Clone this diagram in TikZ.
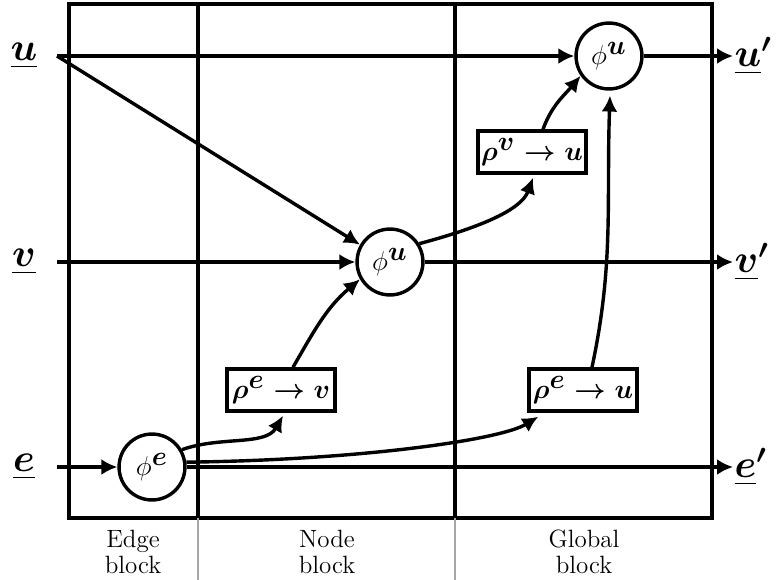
\documentclass[tikz,border=0pt]{standalone}
\usepackage{amsmath,amssymb}
\usetikzlibrary{arrows.meta,calc}
\begin{document}
\begin{tikzpicture}[x=0.44pt,y=0.44pt,
  line width=1.5pt,
  arr/.style={-{Latex[length=7pt,width=7pt]}},
  fn/.style={circle,draw,line width=1.5pt,minimum size=29pt,inner sep=0pt,font=\fontsize{11.5}{14}\selectfont},
  agg/.style={rectangle,draw,line width=1.5pt,minimum width=47.5pt,minimum height=18.5pt,inner sep=1pt,font=\fontsize{11.5}{13}\selectfont},
  lbl/.style={font=\fontsize{18.5}{22}\selectfont,inner sep=0pt},
  blk/.style={align=center,font=\fontsize{11}{11.6}\selectfont,inner sep=0pt},
  sep/.style={draw=black!35,line width=1pt}]

\useasboundingbox (0,0) rectangle (776,-580);

% frame and block separators
\draw (69,-4) rectangle (712,-518);
\draw (198,-4) -- (198,-518);
\draw (455,-4) -- (455,-518);
\draw[sep] (198,-518) -- (198,-580);
\draw[sep] (455,-518) -- (455,-580);

% nodes
\node[fn] (pe) at (152,-467) {$\phi^{\textstyle\boldsymbol e}$};
\node[fn] (pv) at (390,-262) {$\phi^{\textstyle\boldsymbol u}$};
\node[fn] (pu) at (609,-56) {$\phi^{\textstyle\boldsymbol u}$};
\node[agg] (rev) at (281,-390) {$\boldsymbol{\rho^{\textstyle\boldsymbol e}\rightarrow v}$};
\node[agg] (rvu) at (532,-152) {$\boldsymbol{\rho^{\textstyle\boldsymbol v}\rightarrow u}$};
\node[agg] (reu) at (583,-390) {$\boldsymbol{\rho^{\textstyle\boldsymbol e}\rightarrow u}$};

% inputs / outputs
\coordinate (uin) at (57,-56);
\coordinate (vin) at (57,-262);
\coordinate (ein) at (57,-467);
\coordinate (uout) at (733,-56);
\coordinate (vout) at (733,-262);
\coordinate (eout) at (733,-467);

\node[lbl] (ul) at (24,-56) {$\underline{\boldsymbol u}$};
\node[lbl] (vl) at (24,-262) {$\underline{\boldsymbol v}$};
\node[lbl] (el) at (24,-467) {$\underline{\boldsymbol e}$};
\node[lbl,anchor=west] (ulo) at (uout) {$\underline{\boldsymbol u}^{\boldsymbol\prime}$};
\node[lbl,anchor=west] (vlo) at (vout) {$\underline{\boldsymbol v}^{\boldsymbol\prime}$};
\node[lbl,anchor=west] (elo) at (eout) {$\underline{\boldsymbol e}^{\boldsymbol\prime}$};

% block labels
\node[blk] (eb) at (133,-552) {Edge\\block};
\node[blk] (nb) at (327,-552) {Node\\block};
\node[blk] (gb) at (584,-552) {Global\\block};

% straight connectors
\draw[arr] (uin) -- (pu);
\draw[arr] (pu) -- (uout);
\draw[arr] (uin) -- (pv.150);
\draw[arr] (vin) -- (pv);
\draw[arr] (pv) -- (vout);
\draw[arr] (ein) -- (pe);
\draw[arr] (pe) -- (eout);

% curved connectors
\draw[arr] (pe.30) .. controls +(20:40) and +(-120:35) .. ($(rev.south)+(2,-3)$);
\draw[arr] ($(rev.north)+(12,0)$) to[out=60,in=-140] (pv.210);
\draw[arr] (pv.32) .. controls +(15:60) and +(-110:35) .. ($(rvu.south)+(1,-3)$);
\draw[arr] ($(rvu.north)+(11,0)$) to[out=70,in=-130] (pu.215);
\draw[arr] (pe.8) .. controls (360,-460) and (500,-440) .. ($(reu.south west)+(11,-4)$);
\draw[arr] ($(reu.north)+(9,0)$) to[out=78,in=-92] ($(pu.south)+(1,-5)$);
\end{tikzpicture}
\end{document}
